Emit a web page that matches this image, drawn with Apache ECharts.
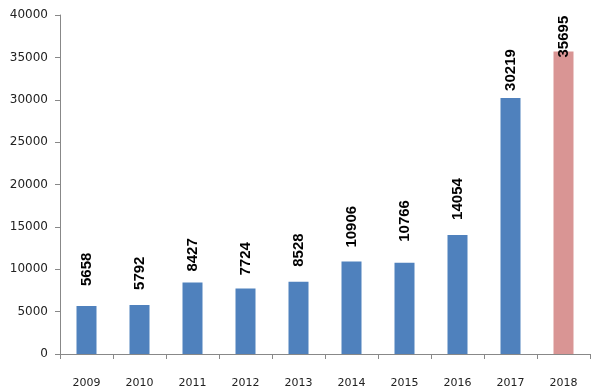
<!DOCTYPE html>
<html>
<head>
<meta charset="utf-8">
<script src="https://cdn.jsdelivr.net/npm/echarts@6/dist/echarts.min.js"></script>
<style>html,body{margin:0;padding:0;background:#fff}#c{width:600px;height:392px}</style>
</head>
<body>
<div id="c"></div>
<script>
var categories = ['2009','2010','2011','2012','2013','2014','2015','2016','2017','2018'];
var values = [5658, 5792, 8427, 7724, 8528, 10906, 10766, 14054, 30219, 35695];
var labelGaps = [20, 15, 11, 13, 15, 14, 21, 15, 7, -6];
var barColors = ['#4F81BD','#4F81BD','#4F81BD','#4F81BD','#4F81BD','#4F81BD','#4F81BD','#4F81BD','#4F81BD','#D99594'];

var data = values.map(function (v, i) {
  return {
    value: v,
    itemStyle: { color: barColors[i] },
    label: { distance: labelGaps[i] }
  };
});

var chart = echarts.init(document.getElementById('c'));
chart.setOption({
  animation: false,
  grid: { left: 60, right: 10, top: 15, bottom: 38 },
  xAxis: {
    type: 'category',
    data: categories,
    axisLine: { lineStyle: { color: '#888' } },
    axisTick: { show: true, length: 5, lineStyle: { color: '#888' } },
    axisLabel: { color: '#222', fontFamily: 'DejaVu Sans', fontSize: 11, margin: 24 }
  },
  yAxis: {
    type: 'value',
    min: 0, max: 40000, interval: 5000,
    axisLine: { show: true, lineStyle: { color: '#888' } },
    axisTick: { show: true, length: 5, lineStyle: { color: '#888' } },
    splitLine: { show: false },
    axisLabel: {
      color: '#222', fontFamily: 'DejaVu Sans', fontSize: 12, margin: 12,
      formatter: function (v) { return String(v); }
    }
  },
  series: [{
    type: 'bar',
    data: data,
    barWidth: 20,
    label: {
      show: true,
      position: 'top',
      rotate: 90,
      align: 'left',
      verticalAlign: 'middle',
      color: '#000',
      fontWeight: 'bold',
      fontFamily: 'Liberation Sans',
      fontSize: 15
    }
  }]
});
</script>
</body>
</html>
